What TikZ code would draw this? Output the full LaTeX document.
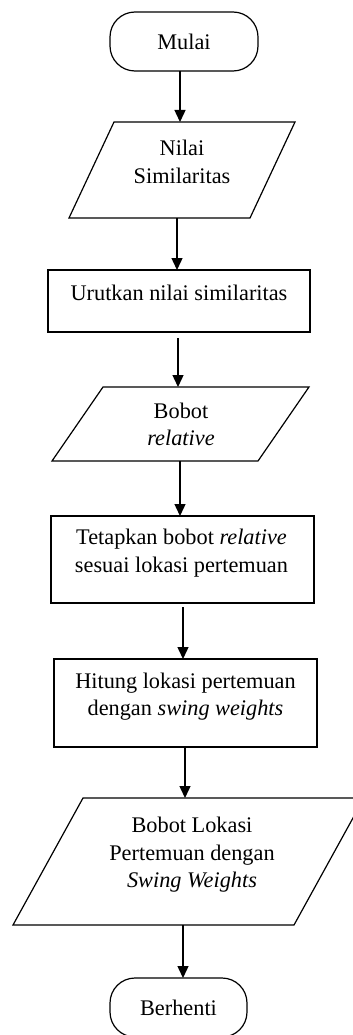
\documentclass[tikz,border=0pt]{standalone}
\usepackage{fontspec}
\setmainfont{Liberation Serif}
\usetikzlibrary{arrows.meta}
\begin{document}
\begin{tikzpicture}[x=1pt,y=-1pt,
  every node/.style={outer sep=0pt, inner sep=0pt},
  lbl/.style={align=center, font=\fontsize{22.3}{27.5}\selectfont},
  term/.style={draw, line width=1.2pt, rectangle, rounded corners=25pt},
  procbox/.style={draw, line width=1.2pt, rectangle},
  iobox/.style={rectangle, draw=none},
  ioline/.style={line width=1.2pt, line join=miter},
  arr/.style={line width=1.4pt, -{Triangle[length=12pt,width=11pt]}}]
\useasboundingbox (0,0) rectangle (353,1035);
% shapes
\node[term, minimum width=148pt, minimum height=59pt] (mulai) at (184,41.5) {};
\node[lbl] at (mulai.center) {Mulai};
\node[iobox, minimum width=226pt, minimum height=96pt] (p1) at (182,170) {};
\draw[ioline] ([xshift=45pt]p1.north west) -- (p1.north east) -- ([xshift=-45pt]p1.south east) -- (p1.south west) -- cycle;
\node[lbl] at (182,162) {Nilai\\Similaritas};
\node[procbox, minimum width=262pt, minimum height=62pt] (r1) at (179,301) {};
\node[lbl] at (179,293) {Urutkan nilai similaritas};
\node[iobox, minimum width=257pt, minimum height=74pt] (p2) at (180.5,424) {};
\draw[ioline] ([xshift=51pt]p2.north west) -- (p2.north east) -- ([xshift=-51pt]p2.south east) -- (p2.south west) -- cycle;
\node[lbl] at (181,424.5) {Bobot\\\textit{relative}};
\node[procbox, minimum width=263pt, minimum height=87pt] (r2) at (182.5,559.5) {};
\node[lbl] at (181.5,553) {Tetapkan bobot \textit{relative}\\sesuai lokasi pertemuan};
\node[procbox, minimum width=263pt, minimum height=88pt] (r3) at (185.5,703) {};
\node[lbl] at (185.5,696.5) {Hitung lokasi pertemuan\\dengan \textit{swing weights}};
\node[iobox, minimum width=351pt, minimum height=127pt] (p3) at (188.5,861.5) {};
\draw[ioline] ([xshift=70pt]p3.north west) -- (p3.north east) -- ([xshift=-70pt]p3.south east) -- (p3.south west) -- cycle;
\node[lbl] at (192,855) {Bobot Lokasi\\Pertemuan dengan\\\textit{Swing Weights}};
\node[term, minimum width=137pt, minimum height=59pt] (stop) at (178.5,1007.5) {};
\node[lbl] at (178.5,1008) {Berhenti};
% arrow columns
\coordinate (c1) at (180,0);
\coordinate (c2) at (177,0);
\coordinate (c3) at (178,0);
\coordinate (c4) at (180,0);
\coordinate (c5) at (183,0);
\coordinate (c6) at (185,0);
\coordinate (c7) at (183,0);
\draw[arr] (mulai.south -| c1) -- (p1.north -| c1);
\draw[arr] (p1.south -| c2) -- (r1.north -| c2);
\draw[arr] ([yshift=-6pt]r1.south -| c3) -- (p2.north -| c3);
\draw[arr] (p2.south -| c4) -- (r2.north -| c4);
\draw[arr] ([yshift=-4pt]r2.south -| c5) -- (r3.north -| c5);
\draw[arr] (r3.south -| c6) -- (p3.north -| c6);
\draw[arr] (p3.south -| c7) -- (stop.north -| c7);
\end{tikzpicture}
\end{document}
